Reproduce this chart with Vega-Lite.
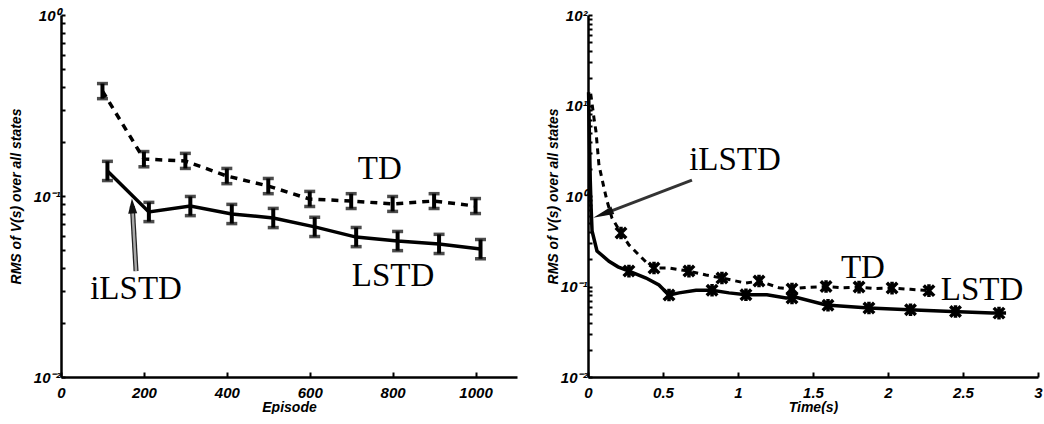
{
  "$schema": "https://vega.github.io/schema/vega-lite/v6.json",
  "background": "white",
  "padding": {"left": 9, "top": 8, "right": 0, "bottom": 0},
  "spacing": 29,
  "config": {
    "view": {"stroke": null},
    "font": "Liberation Sans",
    "axis": {
      "grid": false,
      "domainColor": "black",
      "domainWidth": 2.5,
      "tickColor": "black",
      "tickWidth": 2,
      "labelFont": "Liberation Sans",
      "labelFontStyle": "italic",
      "labelFontWeight": "bold",
      "labelFontSize": 15,
      "labelColor": "black",
      "labelFlush": false,
      "labelOverlap": false,
      "titleFont": "Liberation Sans",
      "titleFontStyle": "italic",
      "titleFontWeight": "bold",
      "titleFontSize": 14,
      "titleColor": "black"
    }
  },
  "datasets": {
    "episodes": [
      {"series": "TD", "episode": 100, "rms": 0.380, "lo": 0.345, "hi": 0.418},
      {"series": "TD", "episode": 200, "rms": 0.160, "lo": 0.145, "hi": 0.176},
      {"series": "TD", "episode": 300, "rms": 0.156, "lo": 0.142, "hi": 0.172},
      {"series": "TD", "episode": 400, "rms": 0.129, "lo": 0.117, "hi": 0.142},
      {"series": "TD", "episode": 500, "rms": 0.1135, "lo": 0.103, "hi": 0.125},
      {"series": "TD", "episode": 600, "rms": 0.0962, "lo": 0.0875, "hi": 0.106},
      {"series": "TD", "episode": 700, "rms": 0.0938, "lo": 0.0853, "hi": 0.103},
      {"series": "TD", "episode": 800, "rms": 0.0904, "lo": 0.0822, "hi": 0.0994},
      {"series": "TD", "episode": 900, "rms": 0.0938, "lo": 0.0853, "hi": 0.103},
      {"series": "TD", "episode": 1000, "rms": 0.088, "lo": 0.080, "hi": 0.0968},
      {"series": "LSTD", "episode": 112, "rms": 0.1375, "lo": 0.1217, "hi": 0.1554},
      {"series": "LSTD", "episode": 212, "rms": 0.0816, "lo": 0.0722, "hi": 0.0922},
      {"series": "LSTD", "episode": 312, "rms": 0.088, "lo": 0.0779, "hi": 0.0994},
      {"series": "LSTD", "episode": 412, "rms": 0.0796, "lo": 0.0704, "hi": 0.0899},
      {"series": "LSTD", "episode": 512, "rms": 0.0756, "lo": 0.0669, "hi": 0.0854},
      {"series": "LSTD", "episode": 612, "rms": 0.0675, "lo": 0.0597, "hi": 0.0763},
      {"series": "LSTD", "episode": 712, "rms": 0.0593, "lo": 0.0525, "hi": 0.0670},
      {"series": "LSTD", "episode": 812, "rms": 0.0564, "lo": 0.0499, "hi": 0.0637},
      {"series": "LSTD", "episode": 912, "rms": 0.0543, "lo": 0.0481, "hi": 0.0614},
      {"series": "LSTD", "episode": 1012, "rms": 0.0509, "lo": 0.0450, "hi": 0.0575}
    ],
    "episodeLabels": [
      {"label": "TD", "episode": 769, "rms": 0.1243},
      {"label": "LSTD", "episode": 801, "rms": 0.0318},
      {"label": "iLSTD", "episode": 181, "rms": 0.0269}
    ],
    "episodeArrow": [
      {"episode": 181, "rms": 0.0385, "episode2": 172, "rms2": 0.088}
    ],
    "episodeArrowHead": [
      {"episode": 172, "rms": 0.0881}
    ],
    "timeCurves": [
      {"series": "TD", "time": 0.018, "rms": 13.5},
      {"series": "TD", "time": 0.027, "rms": 10.5},
      {"series": "TD", "time": 0.04, "rms": 7.2},
      {"series": "TD", "time": 0.053, "rms": 5.2},
      {"series": "TD", "time": 0.073, "rms": 2.2},
      {"series": "TD", "time": 0.107, "rms": 1.22},
      {"series": "TD", "time": 0.127, "rms": 0.88},
      {"series": "TD", "time": 0.16, "rms": 0.57},
      {"series": "TD", "time": 0.22, "rms": 0.39},
      {"series": "TD", "time": 0.273, "rms": 0.288},
      {"series": "TD", "time": 0.34, "rms": 0.223},
      {"series": "TD", "time": 0.407, "rms": 0.173},
      {"series": "TD", "time": 0.44, "rms": 0.16},
      {"series": "TD", "time": 0.54, "rms": 0.16},
      {"series": "TD", "time": 0.673, "rms": 0.148},
      {"series": "TD", "time": 0.787, "rms": 0.134},
      {"series": "TD", "time": 0.893, "rms": 0.124},
      {"series": "TD", "time": 1.053, "rms": 0.109},
      {"series": "TD", "time": 1.14, "rms": 0.115},
      {"series": "TD", "time": 1.273, "rms": 0.097},
      {"series": "TD", "time": 1.36, "rms": 0.094},
      {"series": "TD", "time": 1.46, "rms": 0.098},
      {"series": "TD", "time": 1.587, "rms": 0.1},
      {"series": "TD", "time": 1.7, "rms": 0.097},
      {"series": "TD", "time": 1.807, "rms": 0.0985},
      {"series": "TD", "time": 1.92, "rms": 0.095},
      {"series": "TD", "time": 2.027, "rms": 0.096},
      {"series": "TD", "time": 2.15, "rms": 0.093},
      {"series": "TD", "time": 2.273, "rms": 0.09},
      {"series": "LSTD", "time": 0.004, "rms": 14},
      {"series": "LSTD", "time": 0.01, "rms": 4},
      {"series": "LSTD", "time": 0.015, "rms": 1.5},
      {"series": "LSTD", "time": 0.02, "rms": 0.8},
      {"series": "LSTD", "time": 0.027, "rms": 0.41},
      {"series": "LSTD", "time": 0.06, "rms": 0.247},
      {"series": "LSTD", "time": 0.14, "rms": 0.19},
      {"series": "LSTD", "time": 0.2, "rms": 0.165},
      {"series": "LSTD", "time": 0.273, "rms": 0.148},
      {"series": "LSTD", "time": 0.387, "rms": 0.124},
      {"series": "LSTD", "time": 0.473, "rms": 0.104},
      {"series": "LSTD", "time": 0.54, "rms": 0.0805},
      {"series": "LSTD", "time": 0.607, "rms": 0.085},
      {"series": "LSTD", "time": 0.72, "rms": 0.091},
      {"series": "LSTD", "time": 0.827, "rms": 0.091},
      {"series": "LSTD", "time": 0.94, "rms": 0.085},
      {"series": "LSTD", "time": 1.053, "rms": 0.081},
      {"series": "LSTD", "time": 1.193, "rms": 0.081},
      {"series": "LSTD", "time": 1.32, "rms": 0.0745},
      {"series": "LSTD", "time": 1.387, "rms": 0.076},
      {"series": "LSTD", "time": 1.587, "rms": 0.0625},
      {"series": "LSTD", "time": 1.873, "rms": 0.0578},
      {"series": "LSTD", "time": 2.14, "rms": 0.0554},
      {"series": "LSTD", "time": 2.427, "rms": 0.0531},
      {"series": "LSTD", "time": 2.693, "rms": 0.0508},
      {"series": "LSTD", "time": 2.787, "rms": 0.0508}
    ],
    "timeSamples": [
      {"series": "TD", "time": 0.22, "rms": 0.39},
      {"series": "TD", "time": 0.44, "rms": 0.16},
      {"series": "TD", "time": 0.673, "rms": 0.148},
      {"series": "TD", "time": 0.893, "rms": 0.124},
      {"series": "TD", "time": 1.14, "rms": 0.115},
      {"series": "TD", "time": 1.36, "rms": 0.094},
      {"series": "TD", "time": 1.587, "rms": 0.1},
      {"series": "TD", "time": 1.807, "rms": 0.0985},
      {"series": "TD", "time": 2.027, "rms": 0.096},
      {"series": "TD", "time": 2.273, "rms": 0.09},
      {"series": "LSTD", "time": 0.273, "rms": 0.148},
      {"series": "LSTD", "time": 0.54, "rms": 0.0805},
      {"series": "LSTD", "time": 0.827, "rms": 0.091},
      {"series": "LSTD", "time": 1.053, "rms": 0.081},
      {"series": "LSTD", "time": 1.36, "rms": 0.0745},
      {"series": "LSTD", "time": 1.6, "rms": 0.062},
      {"series": "LSTD", "time": 1.873, "rms": 0.0578},
      {"series": "LSTD", "time": 2.15, "rms": 0.0554},
      {"series": "LSTD", "time": 2.45, "rms": 0.053},
      {"series": "LSTD", "time": 2.74, "rms": 0.0508}
    ],
    "timeLabels": [
      {"label": "TD", "time": 1.833, "rms": 0.124},
      {"label": "LSTD", "time": 2.627, "rms": 0.071},
      {"label": "iLSTD", "time": 0.98, "rms": 1.94}
    ],
    "timeArrow": [
      {"time": 0.693, "rms": 1.5, "time2": 0.1, "rms2": 0.632}
    ],
    "timeArrowHead": [
      {"time": 0.1, "rms": 0.632}
    ]
  },
  "hconcat": [
    {
      "width": 456,
      "height": 362,
      "layer": [
        {
          "data": {"name": "episodes"},
          "transform": [{"filter": "datum.series === 'TD'"}],
          "mark": {"type": "line", "color": "black", "strokeWidth": 3.5, "strokeDash": [7, 6]},
          "encoding": {
            "x": {
              "field": "episode", "type": "quantitative",
              "scale": {"domain": [0, 1100], "nice": false},
              "axis": {
                "title": "Episode", "values": [0, 200, 400, 600, 800, 1000],
                "labelExpr": "'' + datum.value",
                "labelFont": "Liberation Sans", "labelFontSize": 15, "labelFontWeight": "bold", "labelFontStyle": "italic",
                "tickSize": -5, "labelPadding": 13, "titlePadding": 0
              }
            },
            "y": {
              "field": "rms", "type": "quantitative",
              "scale": {"type": "log", "domain": [0.01, 1], "nice": false},
              "axis": {
                "title": "RMS of V(s) over all states",
                "values": [0.01, 0.02, 0.03, 0.04, 0.05, 0.06, 0.07, 0.08, 0.09, 0.1, 0.2, 0.3, 0.4, 0.5, 0.6, 0.7, 0.8, 0.9, 1],
                "labelExpr": "datum.value == 1 ? '10⁰' : datum.value == 0.1 ? '10⁻¹' : datum.value == 0.01 ? '10⁻²' : ''",
                "labelFont": "Liberation Sans", "labelFontSize": 15, "labelFontWeight": "bold", "labelFontStyle": "italic",
                "tickSize": -4, "labelPadding": 5, "titlePadding": 10
              }
            }
          }
        },
        {
          "data": {"name": "episodes"},
          "transform": [{"filter": "datum.series === 'LSTD'"}],
          "mark": {"type": "line", "color": "black", "strokeWidth": 3.5},
          "encoding": {
            "x": {"field": "episode", "type": "quantitative"},
            "y": {"field": "rms", "type": "quantitative"}
          }
        },
        {
          "data": {"name": "episodes"},
          "mark": {"type": "rule", "color": "black", "strokeWidth": 4},
          "encoding": {
            "x": {"field": "episode", "type": "quantitative"},
            "y": {"field": "lo", "type": "quantitative"},
            "y2": {"field": "hi"}
          }
        },
        {
          "data": {"name": "episodes"},
          "mark": {"type": "tick", "color": "black", "orient": "horizontal", "thickness": 3.5, "size": 11},
          "encoding": {
            "x": {"field": "episode", "type": "quantitative"},
            "y": {"field": "lo", "type": "quantitative"}
          }
        },
        {
          "data": {"name": "episodes"},
          "mark": {"type": "tick", "color": "black", "orient": "horizontal", "thickness": 3.5, "size": 11},
          "encoding": {
            "x": {"field": "episode", "type": "quantitative"},
            "y": {"field": "hi", "type": "quantitative"}
          }
        },
        {
          "data": {"name": "episodeArrow"},
          "mark": {"type": "rule", "color": "#222222", "strokeWidth": 5},
          "encoding": {
            "x": {"field": "episode", "type": "quantitative"},
            "y": {"field": "rms", "type": "quantitative"},
            "x2": {"field": "episode2"},
            "y2": {"field": "rms2"}
          }
        },
        {
          "data": {"name": "episodeArrow"},
          "mark": {"type": "rule", "color": "#a8a8a8", "strokeWidth": 2.5},
          "encoding": {
            "x": {"field": "episode", "type": "quantitative"},
            "y": {"field": "rms", "type": "quantitative"},
            "x2": {"field": "episode2"},
            "y2": {"field": "rms2"}
          }
        },
        {
          "data": {"name": "episodeArrowHead"},
          "mark": {"type": "point", "shape": "M0,-1L0.6,1L-0.6,1Z", "filled": true, "color": "#111111", "opacity": 1, "size": 225, "angle": 357},
          "encoding": {
            "x": {"field": "episode", "type": "quantitative"},
            "y": {"field": "rms", "type": "quantitative"}
          }
        },
        {
          "data": {"name": "episodeLabels"},
          "mark": {"type": "text", "font": "Liberation Serif", "fontSize": 33, "color": "black", "align": "center", "baseline": "alphabetic"},
          "encoding": {
            "x": {"field": "episode", "type": "quantitative"},
            "y": {"field": "rms", "type": "quantitative"},
            "text": {"field": "label"}
          }
        }
      ]
    },
    {
      "width": 450,
      "height": 362,
      "layer": [
        {
          "data": {"name": "timeCurves"},
          "transform": [{"filter": "datum.series === 'TD'"}],
          "mark": {"type": "line", "color": "black", "strokeWidth": 3, "strokeDash": [6, 5]},
          "encoding": {
            "x": {
              "field": "time", "type": "quantitative",
              "scale": {"domain": [0, 3], "nice": false},
              "axis": {
                "title": "Time(s)", "values": [0, 0.5, 1, 1.5, 2, 2.5, 3],
                "labelExpr": "'' + datum.value",
                "labelFont": "Liberation Sans", "labelFontSize": 15, "labelFontWeight": "bold", "labelFontStyle": "italic",
                "tickSize": -5, "labelPadding": 13, "titlePadding": 0
              }
            },
            "y": {
              "field": "rms", "type": "quantitative",
              "scale": {"type": "log", "domain": [0.01, 100], "nice": false},
              "axis": {
                "title": "RMS of V(s) over all states",
                "values": [0.01, 0.02, 0.03, 0.04, 0.05, 0.06, 0.07, 0.08, 0.09, 0.1, 0.2, 0.3, 0.4, 0.5, 0.6, 0.7, 0.8, 0.9, 1, 2, 3, 4, 5, 6, 7, 8, 9, 10, 20, 30, 40, 50, 60, 70, 80, 90, 100],
                "labelExpr": "datum.value == 100 ? '10²' : datum.value == 10 ? '10¹' : datum.value == 1 ? '10⁰' : datum.value == 0.1 ? '10⁻¹' : datum.value == 0.01 ? '10⁻²' : ''",
                "labelFont": "Liberation Sans", "labelFontSize": 15, "labelFontWeight": "bold", "labelFontStyle": "italic",
                "tickSize": -4, "labelPadding": 5, "titlePadding": 0
              }
            }
          }
        },
        {
          "data": {"name": "timeCurves"},
          "transform": [{"filter": "datum.series === 'LSTD'"}],
          "mark": {"type": "line", "color": "black", "strokeWidth": 3.5},
          "encoding": {
            "x": {"field": "time", "type": "quantitative"},
            "y": {"field": "rms", "type": "quantitative"}
          }
        },
        {
          "data": {"name": "timeSamples"},
          "mark": {"type": "point", "shape": "M-1,-1L1,1M-1,1L1,-1M0,-1.2L0,1.2", "filled": false, "color": "black", "opacity": 1, "strokeWidth": 3.5, "size": 110},
          "encoding": {
            "x": {"field": "time", "type": "quantitative"},
            "y": {"field": "rms", "type": "quantitative"}
          }
        },
        {
          "data": {"name": "timeArrow"},
          "mark": {"type": "rule", "color": "#333333", "strokeWidth": 3},
          "encoding": {
            "x": {"field": "time", "type": "quantitative"},
            "y": {"field": "rms", "type": "quantitative"},
            "x2": {"field": "time2"},
            "y2": {"field": "rms2"}
          }
        },
        {
          "data": {"name": "timeArrowHead"},
          "mark": {"type": "point", "shape": "M0,-1L0.38,1L-0.38,1Z", "filled": true, "color": "#111111", "opacity": 1, "size": 441, "angle": 249},
          "encoding": {
            "x": {"field": "time", "type": "quantitative"},
            "y": {"field": "rms", "type": "quantitative"}
          }
        },
        {
          "data": {"name": "timeLabels"},
          "mark": {"type": "text", "font": "Liberation Serif", "fontSize": 33, "color": "black", "align": "center", "baseline": "alphabetic"},
          "encoding": {
            "x": {"field": "time", "type": "quantitative"},
            "y": {"field": "rms", "type": "quantitative"},
            "text": {"field": "label"}
          }
        }
      ]
    }
  ]
}
